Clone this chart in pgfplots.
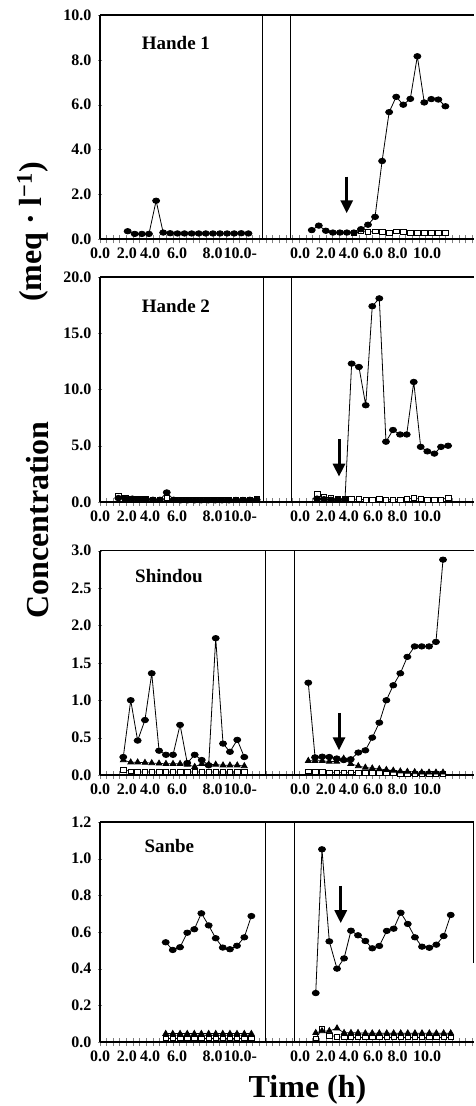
\documentclass[border=0pt]{standalone}
\usepackage{fontspec}
\setmainfont{Liberation Serif}
\usepackage{pgfplots}
\usepackage{pgfplotstable}
\pgfplotsset{compat=1.18}
\usetikzlibrary{arrows.meta}

% ---------- Hande 1 ----------
\pgfplotstableread{
h c
2.08 0.36
2.61 0.24
3.15 0.24
3.68 0.24
4.22 1.72
4.75 0.30
5.28 0.27
5.82 0.26
6.35 0.26
6.89 0.26
7.42 0.26
7.95 0.26
8.49 0.26
9.02 0.26
9.56 0.26
10.09 0.26
10.62 0.27
11.16 0.26
}\HaOneL
\pgfplotstableread{
h c
0.92 0.41
1.45 0.61
1.98 0.38
2.51 0.30
3.04 0.30
3.56 0.30
4.09 0.30
4.62 0.45
5.15 0.65
5.68 1.00
6.21 3.49
6.74 5.67
7.27 6.35
7.80 6.00
8.33 6.26
8.86 8.16
9.38 6.10
9.91 6.25
10.44 6.23
10.97 5.93
}\HaOneR
\pgfplotstableread{
h s
4.09 0.30
4.62 0.35
5.15 0.32
5.68 0.35
6.21 0.32
6.74 0.30
7.27 0.35
7.80 0.32
8.33 0.30
8.86 0.30
9.38 0.30
9.91 0.30
10.44 0.30
10.97 0.30
}\HaOneRs
% ---------- Hande 2 ----------
\pgfplotstableread{
h c s
1.38 0.35 0.55
1.90 0.30 0.35
2.42 0.30 0.30
2.94 0.25 0.28
3.46 0.25 0.25
3.98 0.20 0.22
4.50 0.20 0.22
5.02 0.85 0.35
5.54 0.20 0.20
6.06 0.15 0.18
6.58 0.15 0.18
7.10 0.15 0.18
7.62 0.15 0.18
8.14 0.15 0.18
8.66 0.15 0.18
9.18 0.15 0.18
9.70 0.15 0.18
10.22 0.18 0.20
10.74 0.18 0.20
11.26 0.20 0.22
11.78 0.20 0.33
}\HaTwoL
\pgfplotstableread{
h c s
1.32 0.30 0.70
1.84 0.25 0.45
2.37 0.20 0.35
2.89 0.20 0.30
3.42 0.20 0.30
3.92 12.3 0.25
4.47 12.0 0.25
4.98 8.6 0.20
5.47 17.4 0.20
6.00 18.1 0.25
6.50 5.36 0.20
7.03 6.4 0.20
7.56 6.0 0.20
8.06 6.0 0.25
8.59 10.67 0.35
9.11 4.9 0.25
9.61 4.5 0.20
10.14 4.3 0.20
10.64 4.9 0.20
11.17 5.0 0.40
}\HaTwoR
% ---------- Shindou ----------
\pgfplotstableread{
h c t s
1.75 0.24 0.20 0.07
2.31 1.00 0.17 0.05
2.83 0.46 0.17 0.04
3.38 0.735 0.165 0.04
3.89 1.36 0.16 0.04
4.44 0.325 0.155 0.04
4.96 0.27 0.15 0.04
5.49 0.27 0.15 0.04
6.02 0.67 0.15 0.04
6.56 0.16 0.14 0.04
7.12 0.27 0.11 0.04
7.65 0.20 0.15 0.04
8.17 0.13 0.14 0.04
8.70 1.83 0.14 0.04
9.25 0.42 0.13 0.04
9.77 0.31 0.13 0.04
10.32 0.47 0.13 0.04
10.85 0.24 0.12 0.04
}\ShL
\pgfplotstableread{
h c t s
0.66 1.234 0.19 0.05
1.17 0.236 0.19 0.04
1.71 0.245 0.19 0.04
2.24 0.24 0.18 0.035
2.80 0.22 0.18 0.035
3.32 0.20 0.22 0.035
3.85 0.21 0.15 0.035
4.42 0.30 0.12 0.03
4.95 0.33 0.10 0.03
5.47 0.50 0.09 0.03
6.00 0.70 0.08 0.03
6.53 1.00 0.07 0.025
7.05 1.20 0.06 0.025
7.58 1.36 0.05 0.02
8.11 1.58 0.045 0.02
8.66 1.72 0.04 0.02
9.19 1.72 0.035 0.02
9.74 1.72 0.035 0.02
10.26 1.78 0.035 0.02
10.79 2.88 0.035 0.02
}\ShR
% ---------- Sanbe ----------
\pgfplotstableread{
h c t s
4.94 0.544 0.045 0.02
5.47 0.502 0.045 0.02
6.02 0.517 0.045 0.02
6.56 0.596 0.045 0.02
7.09 0.615 0.045 0.02
7.62 0.702 0.045 0.02
8.17 0.636 0.045 0.02
8.70 0.566 0.045 0.02
9.23 0.515 0.045 0.02
9.77 0.506 0.045 0.02
10.30 0.525 0.045 0.02
10.85 0.571 0.045 0.02
11.38 0.687 0.045 0.02
}\SaL
\pgfplotstableread{
h c t s
1.22 0.267 0.05 0.02
1.69 1.051 0.06 0.07
2.24 0.549 0.06 0.035
2.82 0.40 0.075 0.03
3.35 0.456 0.05 0.025
3.87 0.607 0.05 0.025
4.40 0.582 0.05 0.025
4.95 0.551 0.048 0.025
5.47 0.511 0.048 0.025
6.00 0.524 0.048 0.025
6.56 0.606 0.048 0.025
7.08 0.618 0.048 0.025
7.61 0.705 0.048 0.025
8.14 0.644 0.048 0.025
8.68 0.571 0.048 0.025
9.21 0.520 0.048 0.025
9.76 0.514 0.048 0.025
10.29 0.531 0.048 0.025
10.84 0.578 0.048 0.025
11.37 0.693 0.048 0.025
}\SaR

\tikzset{arr/.style={line width=3pt, -{Triangle[length=13pt,width=12pt]}}}
\pgfplotsset{
  circ/.style={black, line width=0.8pt, mark=*, mark size=3.2pt,
    mark options={solid, xscale=1.1, yscale=0.85}},
  sq/.style={black, line width=0.7pt, mark=square*, mark size=2.8pt,
    mark options={solid, fill=white, yscale=0.85}},
  tri/.style={black, line width=0.7pt, mark=triangle*, mark size=3.4pt,
    mark options={solid}},
  panel/.style={
    scale only axis, width=374pt, anchor=south west,
    xmin=0, xmax=28.12, ymin=0, clip=false,
    axis x line*=bottom, axis y line*=left,
    axis line style={line width=1.6pt},
    xtick={0,2.03,3.76,5.79,8.47,10.34,15.04,16.99,18.72,20.53,22.37,24.59},
    xticklabels={0.0,2.0,4.0,6.0,8.0,10.0\rlap{-},0.0,2.0,4.0,6.0,8.0,10.0},
    major x tick style={draw=none},
    minor xtick={0,0.5,...,28},
    minor x tick style={line width=1pt},
    minor tick length=8pt,
    major tick length=4pt,
    tick align=center,
    /pgf/number format/assume math mode=true,
    ticklabel style={font=\bfseries\fontsize{16}{18}\selectfont},
    yticklabel style={/pgf/number format/fixed, /pgf/number format/fixed zerofill,
      /pgf/number format/precision=1, xshift=-3pt},
    xticklabel style={yshift=-3pt},
  },
}

\begin{document}
\begin{tikzpicture}
\useasboundingbox (0,0) rectangle (475pt,1106pt);

% Hande 1
\begin{axis}[panel, at={(100pt,866.7pt)}, height=224.3pt, ymax=10, ytick={0,2,4,6,8,10}]
  \addplot[sq] table[x expr=\thisrowno{0}+15, y=s] {\HaOneRs};
  \addplot[circ] table[x=h, y=c] {\HaOneL};
  \addplot[circ] table[x expr=\thisrowno{0}+15, y=c] {\HaOneR};
  \draw[line width=1.3pt] (rel axis cs:0,1) -- (rel axis cs:1,1);
  \draw[line width=0.7pt] (axis cs:12.23,0) -- (axis cs:12.23,10);
  \draw[line width=0.7pt] (axis cs:14.29,0) -- (axis cs:14.29,10);
  \draw[arr] (axis cs:18.55,2.79) -- (axis cs:18.55,1.16);
\end{axis}

% Hande 2
\begin{axis}[panel, at={(100pt,604pt)}, height=225pt, ymax=20, ytick={0,5,10,15,20}]
  \addplot[sq] table[x=h, y=s] {\HaTwoL};
  \addplot[sq] table[x expr=\thisrowno{0}+15, y=s] {\HaTwoR};
  \addplot[circ] table[x=h, y=c] {\HaTwoL};
  \addplot[circ] table[x expr=\thisrowno{0}+15, y=c] {\HaTwoR};
  \draw[line width=1.3pt] (rel axis cs:0,1) -- (rel axis cs:1,1);
  \draw[line width=0.7pt] (axis cs:12.28,0) -- (axis cs:12.28,20);
  \draw[line width=0.7pt] (axis cs:14.36,0) -- (axis cs:14.36,20);
  \draw[arr] (axis cs:17.97,5.57) -- (axis cs:17.97,2.25);
\end{axis}

% Shindou
\begin{axis}[panel, at={(100pt,331pt)}, height=224.3pt, ymax=3, ytick={0,0.5,1,1.5,2,2.5,3}]
  \addplot[sq] table[x=h, y=s] {\ShL};
  \addplot[sq] table[x expr=\thisrowno{0}+15, y=s] {\ShR};
  \addplot[tri] table[x=h, y=t] {\ShL};
  \addplot[tri] table[x expr=\thisrowno{0}+15, y=t] {\ShR};
  \addplot[circ] table[x=h, y=c] {\ShL};
  \addplot[circ] table[x expr=\thisrowno{0}+15, y=c] {\ShR};
  \draw[line width=1.3pt] (rel axis cs:0,1) -- (rel axis cs:1,1);
  \draw[line width=0.7pt] (axis cs:12.46,0) -- (axis cs:12.46,3);
  \draw[line width=0.7pt] (axis cs:14.59,0) -- (axis cs:14.59,3);
  \draw[arr] (axis cs:17.97,0.83) -- (axis cs:17.97,0.33);
\end{axis}

% Sanbe
\begin{axis}[panel, at={(100pt,64pt)}, height=220pt, ymax=1.2, ytick={0,0.2,0.4,0.6,0.8,1.0,1.2}]
  \addplot[sq] table[x=h, y=s] {\SaL};
  \addplot[sq] table[x expr=\thisrowno{0}+15, y=s] {\SaR};
  \addplot[tri] table[x=h, y=t] {\SaL};
  \addplot[tri] table[x expr=\thisrowno{0}+15, y=t] {\SaR};
  \addplot[circ] table[x=h, y=c] {\SaL};
  \addplot[circ] table[x expr=\thisrowno{0}+15, y=c] {\SaR};
  \draw[line width=1.3pt] (rel axis cs:0,1) -- (rel axis cs:1,1);
  \draw[line width=0.7pt] (axis cs:12.46,0) -- (axis cs:12.46,1.2);
  \draw[line width=0.7pt] (axis cs:14.59,0) -- (axis cs:14.59,1.2);
  \draw[line width=1pt] (axis cs:28.05,0.43) -- (axis cs:28.05,1.2);
  \draw[arr] (axis cs:18.1,0.851) -- (axis cs:18.1,0.648);
\end{axis}

% panel titles
\begin{scope}[every node/.style={anchor=base west, inner sep=0pt, font=\bfseries\fontsize{19}{22}\selectfont}]
  \node at (141.7pt,1056pt) {Hande 1};
  \node at (141.7pt,793.7pt) {Hande 2};
  \node at (135pt,523.3pt) {Shindou};
  \node at (144.3pt,253.7pt) {Sanbe};
\end{scope}

% axis titles
\node[rotate=90, anchor=base, inner sep=0pt, font=\bfseries\fontsize{32}{36}\selectfont] at (48pt,586pt) {Concentration};
\node[rotate=90, anchor=base, inner sep=0pt, font=\bfseries\fontsize{32}{36}\selectfont] at (41pt,874pt) {(meq · l\textsuperscript{−1})};
\node[anchor=base, inner sep=0pt, font=\bfseries\fontsize{32}{36}\selectfont] at (307.5pt,9pt) {Time (h)};
\end{tikzpicture}
\end{document}
